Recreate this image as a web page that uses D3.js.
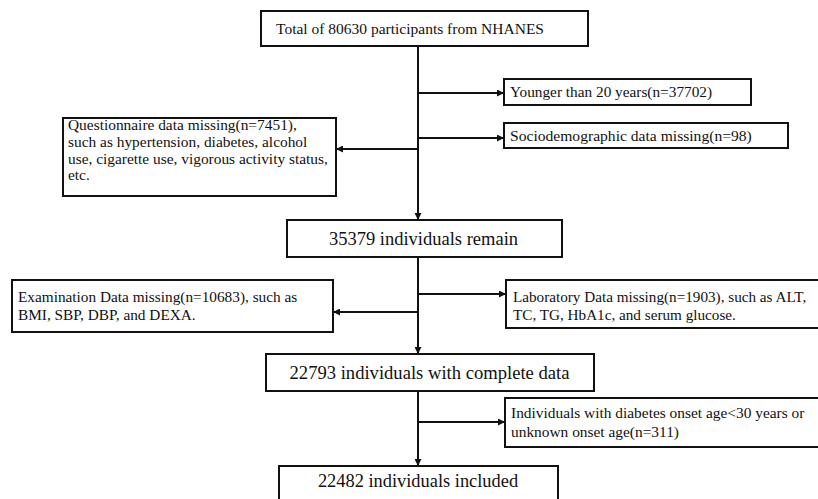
<!DOCTYPE html>
<html>
<head>
<meta charset="utf-8">
<script src="https://cdn.jsdelivr.net/npm/d3@7"></script>
<style>
  body { margin: 0; background: #fff; }
</style>
</head>
<body>
<div id="flow"></div>
<script>
// Flow chart content (text and counts)
var mainSteps = [
  "Total of 80630 participants from NHANES",
  "35379 individuals remain",
  "22793 individuals with complete data",
  "22482 individuals included"
];

var excludedLines = [
  ["Younger than 20 years(n=37702)"],
  ["Sociodemographic data missing(n=98)"],
  ["Questionnaire data missing(n=7451),",
   "such as hypertension, diabetes, alcohol",
   "use, cigarette use, vigorous activity status,",
   "etc."],
  ["Laboratory Data missing(n=1903), such as ALT,",
   "TC, TG, HbA1c, and serum glucose."],
  ["Examination Data missing(n=10683), such as",
   "BMI, SBP, DBP, and DEXA."],
  ["Individuals with diabetes onset age<30 years or",
   "unknown onset age(n=311)"]
];

// Layout (pixels)
var svgWidth = 818;
var svgHeight = 499;
var spineX = 418;
var serif = "'Liberation Serif'";

// tc = text centre x, ty = text centre y
var mainBoxes = [
  { x: 261, y: 11, w: 327, h: 35, fs: 15.5, tc: 410 },
  { x: 287, y: 220, w: 275, h: 37, fs: 18.5, tc: 423.5 },
  { x: 266, y: 354, w: 328, h: 37, fs: 18.6, tc: 429.5 },
  { x: 279, y: 466, w: 279, h: 40, fs: 18.4, tc: 418, ty: 481 }
];

// side boxes: branch y, box geometry, line centres
var sideBoxes = [
  { by: 93, x: 504, y: 79, w: 247, h: 26, fs: 15.3, tx: 510, ly: [92] },
  { by: 138, x: 504, y: 123, w: 284, h: 25, fs: 15.6, tx: 510, ly: [136] },
  { by: 149, x: 63, y: 118, w: 273, h: 78, fs: 15.4, tx: 68, ly: [125, 142, 158.5, 175] },
  { by: 294, x: 506, y: 280, w: 320, h: 48, fs: 15.2, tx: 513, ly: [297, 314.5] },
  { by: 312, x: 12, y: 280, w: 321, h: 52, fs: 15.3, tx: 18, ly: [297, 315] },
  { by: 422, x: 505, y: 398, w: 320, h: 49, fs: 15.4, tx: 511, ly: [413, 432] }
];

var svg = d3.select("#flow")
  .append("svg")
  .attr("width", svgWidth)
  .attr("height", svgHeight);

// arrow head
svg.append("defs")
  .append("marker")
  .attr("id", "head")
  .attr("viewBox", "0 0 10 10")
  .attr("refX", 10)
  .attr("refY", 5)
  .attr("markerUnits", "userSpaceOnUse")
  .attr("markerWidth", 8)
  .attr("markerHeight", 7)
  .attr("orient", "auto")
  .append("path")
  .attr("d", "M0,0L10,5L0,10Z")
  .attr("fill", "#111");

var lines = svg.append("g")
  .attr("stroke", "#111")
  .attr("stroke-width", 2)
  .attr("fill", "none");

// vertical spine between main boxes
d3.range(mainBoxes.length - 1).forEach(function(i) {
  lines.append("line")
    .attr("x1", spineX)
    .attr("x2", spineX)
    .attr("y1", mainBoxes[i].y + mainBoxes[i].h)
    .attr("y2", mainBoxes[i + 1].y)
    .attr("marker-end", "url(#head)");
});

// branches to exclusion boxes
sideBoxes.forEach(function(b) {
  var leftSide = b.x < spineX;
  lines.append("line")
    .attr("x1", spineX)
    .attr("x2", leftSide ? b.x + b.w : b.x)
    .attr("y1", b.by)
    .attr("y2", b.by)
    .attr("marker-end", "url(#head)");
});

// main boxes
var mainG = svg.selectAll("g.main")
  .data(mainSteps)
  .enter()
  .append("g")
  .attr("class", "main");

mainG.append("rect")
  .attr("x", (d, i) => mainBoxes[i].x)
  .attr("y", (d, i) => mainBoxes[i].y)
  .attr("width", (d, i) => mainBoxes[i].w)
  .attr("height", (d, i) => mainBoxes[i].h)
  .attr("fill", "#fff")
  .attr("stroke", "#111")
  .attr("stroke-width", 2);

mainG.append("text")
  .attr("x", (d, i) => mainBoxes[i].tc)
  .attr("y", (d, i) => mainBoxes[i].ty || mainBoxes[i].y + mainBoxes[i].h / 2)
  .attr("dy", "0.35em")
  .attr("text-anchor", "middle")
  .style("font-family", serif)
  .style("fill", "#111")
  .style("font-size", (d, i) => mainBoxes[i].fs + "px")
  .text(d => d);

// exclusion boxes
var sideG = svg.selectAll("g.side")
  .data(excludedLines)
  .enter()
  .append("g")
  .attr("class", "side");

sideG.append("rect")
  .attr("x", (d, i) => sideBoxes[i].x)
  .attr("y", (d, i) => sideBoxes[i].y)
  .attr("width", (d, i) => sideBoxes[i].w)
  .attr("height", (d, i) => sideBoxes[i].h)
  .attr("fill", "#fff")
  .attr("stroke", "#111")
  .attr("stroke-width", 2);

sideG.each(function(d, i) {
  var b = sideBoxes[i];
  d3.select(this).selectAll("text")
    .data(d)
    .enter()
    .append("text")
    .attr("x", b.tx)
    .attr("y", (t, j) => b.ly[j])
    .attr("dy", "0.35em")
    .style("font-family", serif)
    .style("fill", "#111")
    .style("font-size", b.fs + "px")
    .text(t => t);
});
</script>
</body>
</html>
